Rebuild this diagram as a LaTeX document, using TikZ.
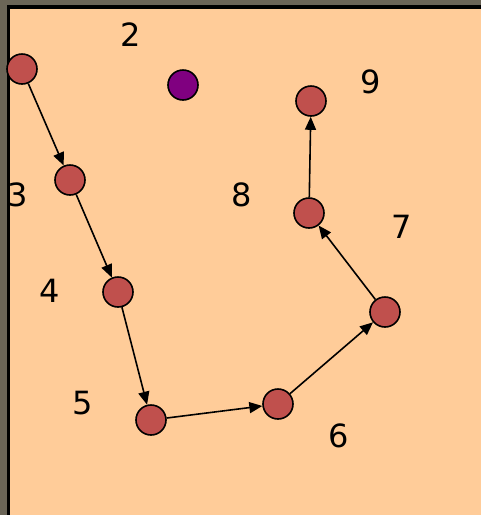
\documentclass[tikz,border=0pt]{standalone}
\usepackage{fontspec}
\setmainfont{DejaVu Sans}
\usetikzlibrary{arrows.meta}
\definecolor{peach}{HTML}{FFCC99}
\definecolor{frame}{HTML}{6B6557}
\definecolor{dot}{HTML}{C0504D}
\definecolor{violet}{HTML}{800080}
\begin{document}
\begin{tikzpicture}[x=1pt,y=-1pt,
  vtx/.style={circle,draw=black,line width=1.6pt,fill=dot,minimum size=30pt,inner sep=0pt},
  lbl/.style={font=\fontsize{32}{34}\selectfont,inner sep=0pt},
  link/.style={line width=1.6pt,-{Triangle[length=13pt,width=11pt]}}]
\useasboundingbox (0,0) rectangle (481,515);
\fill[frame] (0,0) rectangle (481,515);
\fill[black] (7,5) rectangle (481,515);
\fill[peach] (10,9) rectangle (481,515);
\node[vtx] (n1) at (22,69) {};
\node[vtx,fill=violet] (p) at (183,85) {};
\node[vtx] (n3) at (70,180) {};
\node[vtx] (n4) at (118,292) {};
\node[vtx] (n5) at (151,420) {};
\node[vtx] (n6) at (278,404) {};
\node[vtx] (n7) at (385,312) {};
\node[vtx] (n8) at (309,213) {};
\node[vtx] (n9) at (311,101) {};
\node[lbl] (l2) at (131,35) {2};
\node[lbl] (l3) at (18,195) {3};
\node[lbl] (l4) at (50,291) {4};
\node[lbl] (l5) at (83,403) {5};
\node[lbl] (l6) at (339,436) {6};
\node[lbl] (l7) at (402,227) {7};
\node[lbl] (l8) at (242,195) {8};
\node[lbl] (l9) at (371,82) {9};
\draw[link] (n1) -- (n3);
\draw[link] (n3) -- (n4);
\draw[link] (n4) -- (n5);
\draw[link] (n5) -- (n6);
\draw[link] (n6) -- (n7);
\draw[link] (n7) -- (n8);
\draw[link] (n8) -- (n9);
\end{tikzpicture}
\end{document}
